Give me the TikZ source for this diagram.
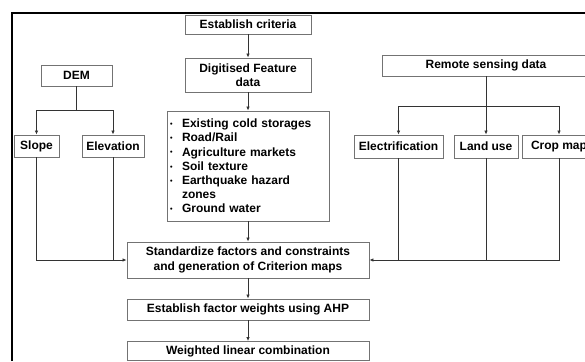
\documentclass[tikz,border=0pt]{standalone}
\usepackage{fontspec}
\setmainfont{Liberation Sans}
\usetikzlibrary{arrows.meta}
\newcommand{\smbul}{\makebox[12pt][l]{\raisebox{1.2pt}{\scalebox{0.6}{\textbullet}}}}
\tikzset{
  box/.style={draw=black!55, line width=0.9pt, fill=white, inner sep=0pt, align=center,
    font=\fontsize{12}{14.2}\selectfont\bfseries},
  conn/.style={draw=black!80, line width=0.9pt},
  arr/.style={conn, -{Latex[length=4pt,width=3.5pt]}}
}
\begin{document}
\begin{tikzpicture}[x=1pt,y=-1pt]
\useasboundingbox (0,0) rectangle (585,361);
\clip (0,0) rectangle (585,361);
\fill[white] (0,0) rectangle (585,361);
\draw[black, line width=2pt] (12,361) -- (12,13) -- (585,13);

% central column
\node[box, minimum width=126pt, minimum height=19pt] (crit) at (248,24.5) {Establish criteria};
\node[box, minimum width=126pt, minimum height=34pt] (digit) at (248,75) {Digitised Feature\\data};
\node[box, text width=156pt, inner xsep=3pt, minimum height=110pt, align=left] (list) at (248,166)
 {\smbul Existing cold storages\\
  \smbul Road/Rail\\
  \smbul Agriculture markets\\
  \smbul Soil texture\\
  \smbul Earthquake hazard\\
  \hspace*{12pt}zones\\
  \smbul Ground water};
\node[box, minimum width=242pt, minimum height=36pt] (std) at (248,260)
 {Standardize factors and constraints\\and generation of Criterion maps};
\node[box, minimum width=242pt, minimum height=21pt] (ahp) at (248,309.5) {Establish factor weights using AHP};
\node[box, minimum width=242pt, minimum height=19pt] (wlc) at (248,351) {Weighted linear combination};

% left column
\node[box, minimum width=71pt, minimum height=21pt] (dem) at (76.5,75.5) {DEM};
\node[box, minimum width=45pt, minimum height=22pt] (slope) at (36.5,146) {Slope};
\node[box, minimum width=62pt, minimum height=22pt] (elev) at (113,146) {Elevation};

% right column
\node[box, minimum width=208pt, minimum height=21pt] (rs) at (486,65.5) {Remote sensing data};
\node[box, minimum width=89pt, minimum height=23pt] (elec) at (398.5,146.5) {Electrification};
\node[box, minimum width=64pt, minimum height=23pt] (land) at (486,146.5) {Land use};
\node[box, minimum width=74pt, minimum height=23pt] (crop) at (559,146.5) {Crop map};

\coordinate (demj) at (76.5,110);
\coordinate (rsj) at (486,106);

% central connectors
\draw[arr] (crit.south) -- (digit.north);
\draw[arr] (digit.south) -- (list.north);
\draw[arr] (list.south) -- (std.north);
\draw[arr] (std.south) -- (ahp.north);
\draw[arr] (ahp.south) -- (wlc.north);

% DEM branch
\draw[conn] (dem.south) -- (demj);
\draw[conn] (demj -| slope.north) -- (demj -| elev.north);
\draw[arr] (demj -| slope.north) -- (slope.north);
\draw[arr] (demj -| elev.north) -- (elev.north);
\draw[conn] (elev.south) -- (elev.south |- std.west);
\draw[arr] (slope.south) -- (slope.south |- std.west) -- (std.west);

% Remote sensing branch
\draw[conn] (rs.south) -- (rsj);
\draw[conn] (rsj -| elec.north) -- (rsj -| crop.north);
\draw[arr] (rsj -| elec.north) -- (elec.north);
\draw[arr] (rsj) -- (land.north);
\draw[arr] (rsj -| crop.north) -- (crop.north);
\draw[conn] (elec.south) -- (elec.south |- std.east);
\draw[conn] (land.south) -- (land.south |- std.east);
\draw[arr] (crop.south) -- (crop.south |- std.east) -- (std.east);
\end{tikzpicture}
\end{document}
